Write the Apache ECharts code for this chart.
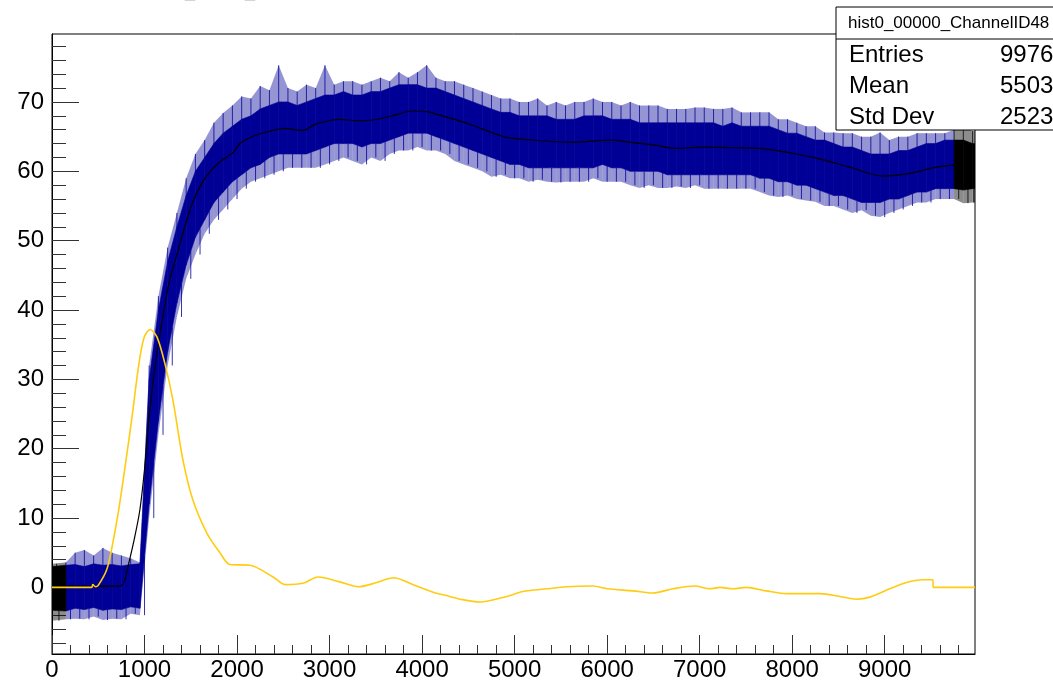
<!DOCTYPE html>
<html>
<head>
<meta charset="utf-8">
<script src="https://cdn.jsdelivr.net/npm/echarts@6/dist/echarts.min.js"></script>
<style>
html, body { margin: 0; padding: 0; background: #fff; }
#main { width: 1053px; height: 683px; }
</style>
</head>
<body>
<div id="main"></div>
<script>
// histogram: 100 bins of 100 samples, last bin ends at 9976
var nEntries = 9976;
var binSize = 100;
// dense part of the noisy band (low / high) per bin
var bandLo = [
	-3.3, -3.4, -3.0, -3.2, -2.9, -3.3, -3.1, -3.2, -2.8, -3.0,
	12, 24, 34, 41, 46.5, 50.5, 53, 55.5, 57, 58.5,
	59.5, 60.5, 61, 62, 62.5, 62.5, 62.5, 62.5, 63, 63.5,
	64, 64, 64, 63.5, 64, 64, 64.5, 65, 65.5, 65.5,
	65.5, 65, 64.5, 64, 63.5, 63, 62.5, 62, 61.5, 61,
	61, 60.5, 60.5, 60.5, 60.5, 60.5, 60.5, 60.5, 60.5, 61,
	60.5, 60.5, 60, 60, 60, 60, 59.5, 59.5, 59.5, 59.5,
	59.5, 59.5, 59.5, 59.5, 59.5, 59.5, 59, 59, 58.5, 58.5,
	58, 58, 57.5, 57, 56.5, 56.5, 56, 55.5, 55.5, 55.5,
	56, 56, 56.5, 57, 57, 57.5, 57.5, 57.5, 57.3, 57.5
];
var bandHi = [
	3.0, 3.2, 3.3, 3.0, 3.4, 3.2, 3.3, 3.1, 3.3, 3.4,
	30, 40, 47, 52, 56.5, 60, 62, 64, 65.5, 66.5,
	67.5, 68, 69, 69.5, 70, 70, 69.5, 70, 70.5, 71,
	71, 71.5, 71, 71, 71.5, 71.5, 72, 72.5, 72.5, 72.5,
	72, 72, 71.5, 71, 70.5, 70, 69.5, 69, 68.5, 68.5,
	68, 68, 68, 68, 67.5, 67.5, 67.5, 68, 68, 68,
	67.5, 67.5, 67.5, 67, 67, 67, 67, 67, 67, 67,
	67, 67, 66.5, 67, 66.5, 66.5, 66.5, 66.5, 66, 65.5,
	65.5, 65, 64.5, 64.5, 64, 63.5, 63.5, 63, 62.5, 62.5,
	62.5, 63, 63, 63.5, 64, 64, 64.5, 64.5, 64.5, 64
];
// outlying spikes per bin
var spikeLo = [
	-4.8, -4.6, -4.5, -4.6, -4.2, -4.7, -4.5, -4.6, -3.8, -4.0,
	10, 22, 32, 39, 44.5, 48, 51, 53, 54.5, 56,
	57.5, 58.5, 59, 59.5, 60, 60.5, 60.5, 60.5, 60.5, 61,
	61.5, 62, 61.5, 61, 62, 61.5, 62.5, 63, 63, 63.5,
	63, 63, 62.5, 61.5, 61, 60.5, 60, 59.2, 59.5, 59,
	59, 58.5, 58.8, 58.5, 58.4, 58.5, 58.5, 58.5, 59, 58.5,
	58.5, 58.5, 58, 57.6, 58, 57.6, 57.6, 57.8, 57.6, 58,
	57.5, 57.5, 57.5, 57.5, 57.5, 57.5, 57, 56.5, 56.3, 56.5,
	56, 55.8, 55.6, 55, 55, 54.5, 54, 54.4, 53.6, 53.4,
	54, 54.5, 55, 55.5, 55.5, 56, 56, 56, 55.4, 55.5
];
var spikeHi = [
	3.4, 3.6, 5.0, 5.4, 4.6, 5.7, 5.0, 4.6, 4.2, 3.6,
	32, 42, 49, 54, 59, 62.5, 64.5, 67, 68.4, 69.5,
	70.8, 70.5, 72.3, 71.7, 75.3, 72, 71.5, 72.5, 72, 75.3,
	72.5, 73, 73, 72.5, 73, 73.5, 73, 74.3, 73.5, 74.3,
	75.3, 73.5, 73, 73, 72.5, 72, 71.5, 71, 70.5, 70.5,
	70, 70, 70.5, 69.5, 70, 69.5, 70, 70, 70.5, 70,
	70, 69.5, 70, 69.5, 69.5, 69.5, 69, 69, 69, 69.2,
	69.2, 69, 69, 69.2, 68.5, 68.5, 68.5, 68.5, 67.5, 67.5,
	67, 66.5, 66.5, 65.6, 65.6, 65.5, 65.5, 65, 65, 65.6,
	64.5, 65, 65, 65.5, 65.5, 65.5, 65.5, 66, 66.4, 65.8
];
// bins drawn in black (outside the blue range)
var blackBins = [0, 97, 98, 99];

// smoothed (running mean) curve
var meanX = [0, 700, 735, 780, 830, 890, 950, 1000, 1050, 1100, 1160, 1265, 1350, 1435, 1520, 1620, 1700, 1800, 1965, 2030, 2200, 2390, 2500, 2710, 2850, 3035, 3110, 3300, 3470, 3650, 3900, 4050, 4190, 4400, 4550, 4750, 4910, 5200, 5630, 6060, 6300, 6500, 6750, 7000, 7110, 7400, 7720, 8000, 8260, 8620, 8980, 9270, 9560, 9755];
var meanY = [0.2, 0.2, 0.2, 0.8, 3.5, 7, 11.2, 17, 24.6, 30.5, 36, 43.9, 48, 52, 55.5, 58.3, 59.8, 61.2, 62.8, 64, 65.2, 65.9, 66.2, 65.9, 66.8, 67.4, 67.5, 67.3, 67.4, 67.9, 68.7, 68.6, 68.1, 67.3, 66.6, 65.6, 64.9, 64.5, 64.2, 64.5, 64.1, 63.8, 63.3, 63.5, 63.5, 63.4, 63.2, 62.6, 61.9, 60.6, 59.3, 59.7, 60.6, 60.9];

// yellow curve
var derivX = [0, 430, 440, 470, 500, 590, 650, 715, 790, 865, 940, 995, 1060, 1135, 1220, 1307, 1415, 1523, 1675, 1815, 1923, 2140, 2390, 2520, 2715, 2875, 3110, 3310, 3510, 3690, 3905, 4120, 4300, 4410, 4625, 4915, 5090, 5350, 5560, 5845, 6000, 6280, 6495, 6710, 6950, 7110, 7220, 7360, 7505, 7720, 7940, 8300, 8515, 8695, 8840, 9055, 9235, 9410, 9520, 9525, 9976];
var derivY = [0, 0, 0.4, 0.1, 0.3, 2.5, 5.9, 10.7, 17.4, 24.6, 32.3, 36, 37.2, 36.1, 32.3, 27, 18.4, 12.6, 7.8, 5, 3.3, 3.2, 1.5, 0.4, 0.6, 1.5, 0.8, 0.1, 0.7, 1.4, 0.4, -0.7, -1.3, -1.7, -2.1, -1.3, -0.6, -0.2, 0.1, 0.2, -0.2, -0.5, -0.8, -0.2, 0.2, -0.2, 0, -0.2, 0, -0.5, -0.9, -0.9, -1.3, -1.7, -1.4, -0.2, 0.7, 1.1, 1.1, 0, 0];

var xMajor = [0, 1000, 2000, 3000, 4000, 5000, 6000, 7000, 8000, 9000];
var xMinor = [200, 400, 600, 800, 1200, 1400, 1600, 1800, 2200, 2400, 2600, 2800, 3200, 3400, 3600, 3800, 4200, 4400, 4600, 4800, 5200, 5400, 5600, 5800, 6200, 6400, 6600, 6800, 7200, 7400, 7600, 7800, 8200, 8400, 8600, 8800, 9200, 9400, 9600, 9800];
var yMajor = [0, 10, 20, 30, 40, 50, 60, 70];
var yMinor = [-8, -6, -4, -2, 2, 4, 6, 8, 12, 14, 16, 18, 22, 24, 26, 28, 32, 34, 36, 38, 42, 44, 46, 48, 52, 54, 56, 58, 62, 64, 66, 68, 72, 74, 76, 78];

var histName = 'hist0_00000_ChannelID48';
var stats = [['Entries', '9976'], ['Mean', '5503'], ['Std Dev', '2523']];

// one segment per bin: from this bin's centre to the next one
var blueData = [], blackData = [];
var nBins = bandLo.length;
for (var i = 0; i < nBins; i++) {
	var j = Math.min(i + 1, nBins - 1);
	var xa = i === 0 ? 0 : (i + 0.5) * binSize;
	var xb = i === nBins - 1 ? nEntries : (j + 0.5) * binSize;
	var item = [xa, xb, bandLo[i], bandHi[i], bandLo[j], bandHi[j], spikeLo[i], spikeHi[i], spikeLo[j], spikeHi[j], (i + 0.5) * binSize];
	if (blackBins.indexOf(i) >= 0) blackData.push(item); else blueData.push(item);
}

function bandRenderer(color, haloColor) {
	return function (params, api) {
		var xa = api.value(0), xb = api.value(1), xc = api.value(10);
		var loA = api.value(2), hiA = api.value(3), loB = api.value(4), hiB = api.value(5);
		var core = [api.coord([xa, hiA]), api.coord([xb, hiB]), api.coord([xb, loB]), api.coord([xa, loA])];
		var halo = [api.coord([xa, api.value(7)]), api.coord([xb, api.value(9)]), api.coord([xb, api.value(8)]), api.coord([xa, api.value(6)])];
		var up0 = api.coord([xc, hiA]), up1 = api.coord([xc, api.value(7)]);
		var xd = (xa + xb) / 2;
		var dn0 = api.coord([xd, (loA + loB) / 2]), dn1 = api.coord([xd, api.value(6)]);
		return {
			type: 'group',
			children: [
				{ type: 'polygon', shape: { points: halo }, style: { fill: haloColor } },
				{ type: 'polygon', shape: { points: core }, style: { fill: color, stroke: color, lineWidth: 0.6 } },
				{ type: 'line', shape: { x1: up0[0], y1: up0[1], x2: up1[0], y2: up1[1] }, style: { stroke: color, lineWidth: 1, opacity: 0.8 } },
				{ type: 'line', shape: { x1: dn0[0], y1: dn0[1], x2: dn1[0], y2: dn1[1] }, style: { stroke: color, lineWidth: 1, opacity: 0.8 } }
			]
		};
	};
}

function pairs(xs, ys) {
	return xs.map(function (x, i) { return [x, ys[i]]; });
}

var labelFont = '"Liberation Sans", Arial, Helvetica, sans-serif';

var chartDom = document.getElementById('main');
var myChart = echarts.init(chartDom, null, { renderer: 'canvas', devicePixelRatio: 1 });

var statsGraphics = [
	{ type: 'rect', z: 100, shape: { x: 836, y: 7, width: 240, height: 123 }, style: { fill: '#fff', stroke: '#000', lineWidth: 1 } },
	{ type: 'line', z: 101, shape: { x1: 836, y1: 39, x2: 1060, y2: 39 }, style: { stroke: '#000', lineWidth: 1 } },
	{ type: 'text', z: 101, x: 848, y: 23, style: { text: histName, font: '17px ' + labelFont, fill: '#000', verticalAlign: 'middle' } }
];
stats.forEach(function (s, i) {
	statsGraphics.push({ type: 'text', z: 101, x: 849, y: 55 + i * 31, style: { text: s[0], font: '24px ' + labelFont, fill: '#000', verticalAlign: 'middle' } });
	statsGraphics.push({ type: 'text', z: 101, x: 1000, y: 55 + i * 31, style: { text: s[1], font: '24px ' + labelFont, fill: '#000', verticalAlign: 'middle' } });
});
statsGraphics.push({ type: 'text', z: 101, x: 147, y: -9, style: { text: histName, font: '18px ' + labelFont, fill: '#000', verticalAlign: 'middle' } });

function plain(v) { return String(v); }

var option = {
	animation: false,
	backgroundColor: '#fff',
	grid: { left: 52, right: 78, top: 34, bottom: 29, show: true, borderColor: '#000', borderWidth: 1, backgroundColor: 'transparent' },
	xAxis: [
		{
			type: 'value', min: 0, max: nEntries, position: 'bottom',
			axisLine: { show: true, onZero: false, lineStyle: { color: '#000', width: 1 } },
			axisTick: { show: true, inside: true, length: 19, customValues: xMajor, lineStyle: { color: '#333' } },
			axisLabel: { customValues: xMajor, formatter: plain, fontSize: 24, fontFamily: labelFont, color: '#000', margin: 4 },
			splitLine: { show: false }
		},
		{
			type: 'value', min: 0, max: nEntries, position: 'bottom',
			axisLine: { show: false, onZero: false },
			axisTick: { show: true, inside: true, length: 9, customValues: xMinor, lineStyle: { color: '#333' } },
			axisLabel: { show: false },
			splitLine: { show: false }
		}
	],
	yAxis: [
		{
			type: 'value', min: -9.6, max: 79.8, position: 'left',
			axisLine: { show: true, onZero: false, lineStyle: { color: '#000', width: 1 } },
			axisTick: { show: true, inside: true, length: 27, customValues: yMajor, lineStyle: { color: '#333' } },
			axisLabel: { customValues: yMajor, formatter: plain, fontSize: 24, fontFamily: labelFont, color: '#000', margin: 8 },
			splitLine: { show: false }
		},
		{
			type: 'value', min: -9.6, max: 79.8, position: 'left',
			axisLine: { show: false, onZero: false },
			axisTick: { show: true, inside: true, length: 14, customValues: yMinor, lineStyle: { color: '#333' } },
			axisLabel: { show: false },
			splitLine: { show: false }
		}
	],
	graphic: statsGraphics,
	series: [
		{
			type: 'custom', name: 'hist', clip: true,
			renderItem: bandRenderer('#000096', 'rgba(20,20,160,0.45)'),
			encode: { x: [0, 1], y: [2, 3, 6, 7] },
			data: blueData
		},
		{
			type: 'custom', name: 'hist-edge', clip: true,
			renderItem: bandRenderer('#000', 'rgba(0,0,0,0.45)'),
			encode: { x: [0, 1], y: [2, 3, 6, 7] },
			data: blackData
		},
		{
			type: 'line', name: 'mean', showSymbol: false, smooth: 0.3,
			lineStyle: { color: '#000', width: 1.2 },
			data: pairs(meanX, meanY)
		},
		{
			type: 'line', name: 'deriv', showSymbol: false, smooth: 0.3,
			lineStyle: { color: '#ffcc11', width: 1.6 },
			data: pairs(derivX, derivY)
		}
	]
};

option && myChart.setOption(option);
</script>
</body>
</html>
